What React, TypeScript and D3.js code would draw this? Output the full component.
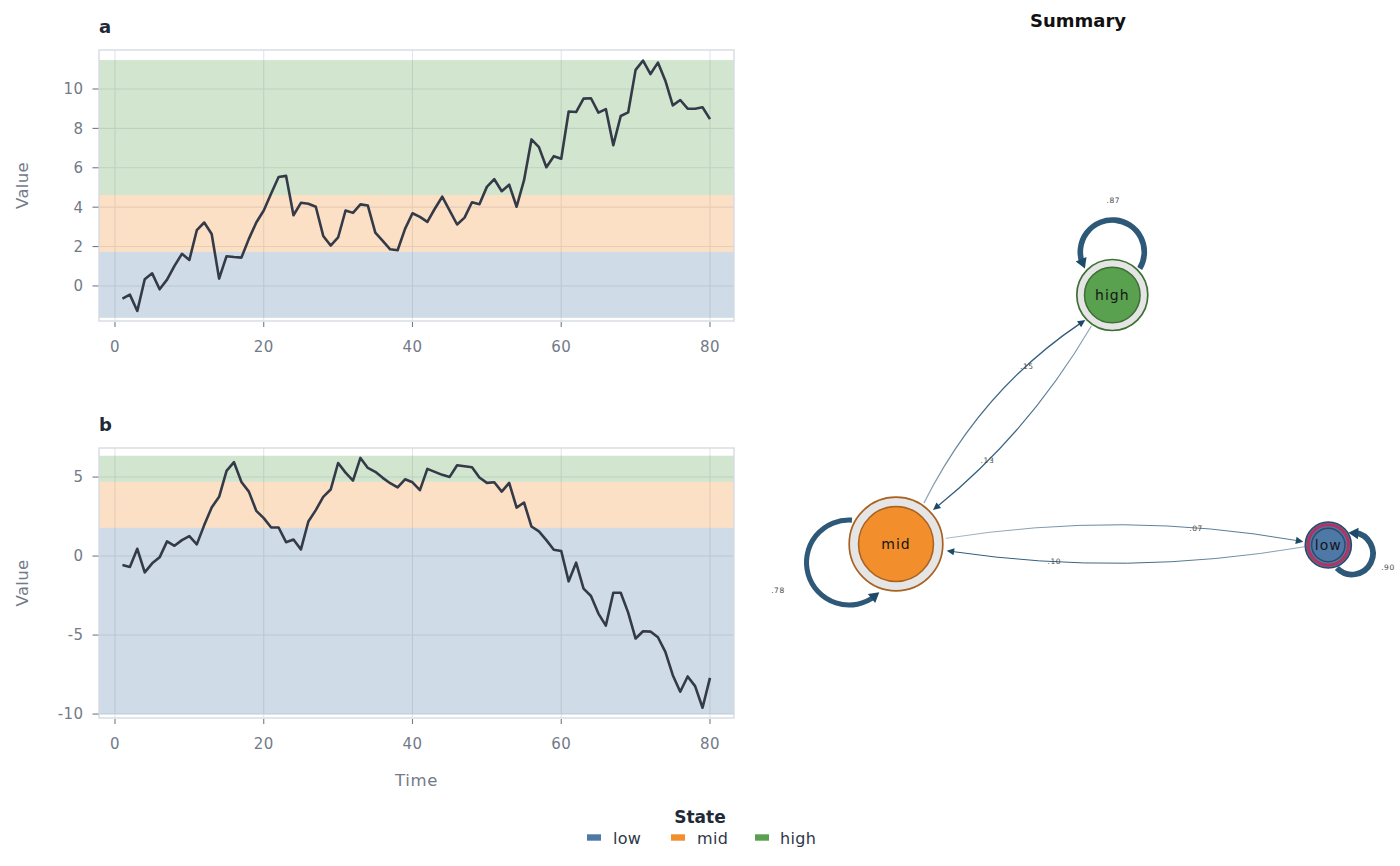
import React from "react";
import * as d3 from "d3";

// ---------- data ----------
const stateNames = ["low", "mid", "high"];
const stateColors = ["#4e79a7", "#f28e2b", "#59a14f"];

const seriesA = [-0.64, -0.44, -1.27, 0.34, 0.64, -0.17, 0.32, 1.02, 1.63, 1.32, 2.83, 3.22, 2.64, 0.37, 1.51, 1.47, 1.44, 2.39, 3.22, 3.83, 4.69, 5.53, 5.59, 3.59, 4.22, 4.17, 4.02, 2.54, 2.05, 2.46, 3.83, 3.71, 4.14, 4.08, 2.71, 2.29, 1.86, 1.81, 2.9, 3.69, 3.51, 3.25, 3.92, 4.53, 3.83, 3.12, 3.47, 4.25, 4.15, 5.03, 5.42, 4.81, 5.14, 4.02, 5.37, 7.44, 7.05, 6.03, 6.59, 6.46, 8.86, 8.83, 9.51, 9.53, 8.8, 8.98, 7.15, 8.63, 8.81, 10.97, 11.44, 10.76, 11.34, 10.42, 9.17, 9.44, 9.0, 9.0, 9.07, 8.47];
const seriesB = [-0.57, -0.69, 0.46, -1.03, -0.46, -0.08, 0.93, 0.65, 1.01, 1.26, 0.74, 1.96, 3.07, 3.75, 5.39, 5.94, 4.69, 4.08, 2.86, 2.4, 1.81, 1.81, 0.88, 1.05, 0.42, 2.19, 2.91, 3.75, 4.21, 5.89, 5.28, 4.78, 6.21, 5.58, 5.33, 4.95, 4.61, 4.34, 4.86, 4.67, 4.17, 5.52, 5.33, 5.14, 5.01, 5.75, 5.68, 5.62, 4.97, 4.63, 4.67, 4.08, 4.63, 3.07, 3.39, 1.87, 1.56, 1.01, 0.4, 0.32, -1.6, -0.42, -2.06, -2.53, -3.64, -4.4, -2.32, -2.32, -3.58, -5.22, -4.76, -4.78, -5.14, -6.06, -7.54, -8.59, -7.62, -8.23, -9.6, -7.71];

// band boundaries: low | mid | high
const bandsA = [-1.62, 1.73, 4.62, 11.47];
const bandsB = [-10.02, 1.79, 4.7, 6.35];

const xTicks = [0, 20, 40, 60, 80];
const yTicksA = [0, 2, 4, 6, 8, 10];
const yTicksB = [-10, -5, 0, 5];

const transFrom = ["low", "low", "mid", "mid", "mid", "high", "high"];
const transTo = ["low", "mid", "low", "mid", "high", "mid", "high"];
const transProb = [0.9, 0.1, 0.07, 0.78, 0.15, 0.13, 0.87];
const initialProb = [1, 0, 0];

// ---------- layout ----------
const FONT = "'DejaVu Sans', Verdana, sans-serif";
const PL = 99;
const PR = 734;
const TICK_COLOR = "#737a88";
const EDGE_COLOR = "#2d5877";
const ARROW_COLOR = "#1e4a6a";

const panels = [
  { key: "a", series: seriesA, bands: bandsA, yTicks: yTicksA, yDomain: [-1.78, 11.98], top: 50, bottom: 321 },
  { key: "b", series: seriesB, bands: bandsB, yTicks: yTicksB, yDomain: [-10.25, 6.84], top: 448, bottom: 718 },
];

const nodeLayout: Record<string, any> = {
  low: { cx: 1328.3, cy: 545, rOut: 23, rIn: 16.7, ring: "#4e79a7", stroke: "#2c4a6e" },
  mid: { cx: 896, cy: 544, rOut: 46.8, rIn: 37.5, ring: "#e5e5e5", stroke: "#a9611f" },
  high: { cx: 1112.3, cy: 295, rOut: 35.5, rIn: 27.8, ring: "#e5e5e5", stroke: "#3d7034" },
};

const edgeGeom: Record<string, any> = {
  "mid-high": { a0: -55.7, d0: 49.6, a1: 137.2, d1: 36.8, bend: 32 },
  "high-mid": { a0: 124, d0: 37.4, a1: -42.6, d1: 50.2, bend: 22 },
  "mid-low": { a0: -6.5, d0: 50, a1: -172.5, d1: 25.2, bend: 30 },
  "low-mid": { a0: 175.8, d0: 23.4, a1: 7.5, d1: 51.1, bend: 28.6 },
};

const loopGeom: Record<string, any> = {
  high: { dx: 0, dy: -43, r: 32, a0: 31, a1: -211, lx: 1, ly: -52 },
  mid: { dx: -47, dy: 18.5, r: 42.5, a0: -86, a1: -315.5, lx: -71, ly: 27.5 },
  low: { dx: 23.7, dy: 8.5, r: 21, a0: 136, a1: -100, lx: 36, ly: 13.5 },
};

const rad = (d: number) => (d * Math.PI) / 180;
const fmtProb = (p: number) => d3.format(".2f")(p).replace(/^0/, "");
const widthScale = d3.scaleLinear().domain([0, 1]).range([0.4, 6.4]);

function Panel({ p, showTitle }: any) {
  const x = d3.scaleLinear().domain([-2.15, 83.23]).range([PL, PR]);
  const y = d3.scaleLinear().domain(p.yDomain).range([p.bottom, p.top]);
  const line = d3
    .line<number>()
    .x((_, i) => x(i + 1))
    .y((d) => y(d));
  const clipId = `clip-${p.key}`;
  return (
    <g>
      <defs>
        <clipPath id={clipId}>
          <rect x={PL} y={p.top} width={PR - PL} height={p.bottom - p.top} />
        </clipPath>
      </defs>
      <rect x={PL} y={p.top} width={PR - PL} height={p.bottom - p.top} fill="#ffffff" />
      {xTicks.map((t) => (
        <line key={"gx" + t} x1={x(t)} x2={x(t)} y1={p.top} y2={p.bottom} stroke="#e2e5ea" strokeWidth={1.1} />
      ))}
      {p.yTicks.map((t: number) => (
        <line key={"gy" + t} x1={PL} x2={PR} y1={y(t)} y2={y(t)} stroke="#e2e5ea" strokeWidth={1.1} />
      ))}
      {stateNames.map((s, i) => (
        <rect
          key={s}
          x={PL}
          width={PR - PL}
          y={y(p.bands[i + 1])}
          height={y(p.bands[i]) - y(p.bands[i + 1])}
          fill={stateColors[i]}
          fillOpacity={0.27}
        />
      ))}
      <path d={line(p.series) || ""} fill="none" stroke="#343a48" strokeWidth={2.6} strokeLinejoin="round" clipPath={`url(#${clipId})`} />
      <rect x={PL} y={p.top} width={PR - PL} height={p.bottom - p.top} fill="none" stroke="#d6dbe2" strokeWidth={1.4} />
      {xTicks.map((t) => (
        <g key={"xt" + t}>
          <line x1={x(t)} x2={x(t)} y1={p.bottom + 1} y2={p.bottom + 6} stroke={TICK_COLOR} strokeWidth={1.1} />
          <text x={x(t)} y={p.bottom + 31} textAnchor="middle" fontSize={15} letterSpacing={0.4} fill={TICK_COLOR} fontFamily={FONT}>
            {t}
          </text>
        </g>
      ))}
      {p.yTicks.map((t: number) => (
        <g key={"yt" + t}>
          <line x1={PL - 6.5} x2={PL - 0.5} y1={y(t)} y2={y(t)} stroke={TICK_COLOR} strokeWidth={1.1} />
          <text x={83.5} y={y(t)} dy="0.36em" textAnchor="end" fontSize={15} letterSpacing={0.4} fill={TICK_COLOR} fontFamily={FONT}>
            {t}
          </text>
        </g>
      ))}
      <text x={99} y={p.top - 17} fontSize={18} fontWeight="bold" fill="#1f2937" fontFamily={FONT}>
        {p.key}
      </text>
      <text
        transform={`translate(28.3,${(p.top + p.bottom) / 2}) rotate(-90)`}
        textAnchor="middle"
        fontSize={16.5}
        letterSpacing={0.3}
        fill={TICK_COLOR}
        fontFamily={FONT}
      >
        Value
      </text>
      {showTitle && (
        <text x={(PL + PR) / 2} y={786} textAnchor="middle" fontSize={16.5} letterSpacing={0.6} fill={TICK_COLOR} fontFamily={FONT}>
          Time
        </text>
      )}
    </g>
  );
}

function arrowPoly(tip: number[], base: number[], hw: number) {
  const ux = tip[0] - base[0];
  const uy = tip[1] - base[1];
  const L = Math.hypot(ux, uy) || 1;
  const vx = -uy / L;
  const vy = ux / L;
  return [tip, [base[0] + vx * hw, base[1] + vy * hw], [base[0] - vx * hw, base[1] - vy * hw]]
    .map((q) => q.join(","))
    .join(" ");
}

function Network() {
  const loops: any[] = [];
  const curves: any[] = [];
  transProb.forEach((p, i) => {
    const f = transFrom[i];
    const t = transTo[i];
    const w = widthScale(p);
    if (f === t) {
      const n = nodeLayout[f];
      const g = loopGeom[f];
      const cx = n.cx + g.dx;
      const cy = n.cy + g.dy;
      const len = 10;
      const hw = 5.8;
      const delta = (len / g.r) * (180 / Math.PI);
      const aBase = g.a1 + delta;
      const aLineEnd = g.a1 + delta * 0.6;
      const path = d3.path();
      path.arc(cx, cy, g.r, rad(g.a0), rad(aLineEnd), true);
      const tip = [cx + g.r * Math.cos(rad(g.a1)), cy + g.r * Math.sin(rad(g.a1))];
      const base = [cx + g.r * Math.cos(rad(aBase)), cy + g.r * Math.sin(rad(aBase))];
      loops.push({ key: f + t, d: path.toString(), w, arrow: arrowPoly(tip, base, hw), lx: cx + g.lx, ly: cy + g.ly, label: fmtProb(p) });
    } else {
      const ns = nodeLayout[f];
      const nt = nodeLayout[t];
      const g = edgeGeom[`${f}-${t}`];
      const S = [ns.cx + g.d0 * Math.cos(rad(g.a0)), ns.cy + g.d0 * Math.sin(rad(g.a0))];
      const E = [nt.cx + g.d1 * Math.cos(rad(g.a1)), nt.cy + g.d1 * Math.sin(rad(g.a1))];
      const L = Math.hypot(E[0] - S[0], E[1] - S[1]);
      const dx = (E[0] - S[0]) / L;
      const dy = (E[1] - S[1]) / L;
      const C = [(S[0] + E[0]) / 2 + dy * g.bend, (S[1] + E[1]) / 2 - dx * g.bend];
      const ux = E[0] - C[0];
      const uy = E[1] - C[1];
      const uL = Math.hypot(ux, uy);
      const len = 7.5;
      const base = [E[0] - (ux / uL) * len, E[1] - (uy / uL) * len];
      const lineEnd = [E[0] - (ux / uL) * len * 0.8, E[1] - (uy / uL) * len * 0.8];
      const path = d3.path();
      path.moveTo(S[0], S[1]);
      path.quadraticCurveTo(C[0], C[1], lineEnd[0], lineEnd[1]);
      const tt = 0.7;
      const lx = (1 - tt) * (1 - tt) * S[0] + 2 * tt * (1 - tt) * C[0] + tt * tt * E[0];
      const ly = (1 - tt) * (1 - tt) * S[1] + 2 * tt * (1 - tt) * C[1] + tt * tt * E[1];
      curves.push({ key: f + t, d: path.toString(), w: Math.max(w, 0.8), S, E, arrow: arrowPoly(E, base, 3.6), lx, ly, label: fmtProb(p) });
    }
  });

  return (
    <g>
      <defs>
        {curves.map((c) => (
          <linearGradient key={c.key} id={"grad-" + c.key} gradientUnits="userSpaceOnUse" x1={c.S[0]} y1={c.S[1]} x2={c.E[0]} y2={c.E[1]}>
            <stop offset="0" stopColor={EDGE_COLOR} stopOpacity={0.5} />
            <stop offset="0.45" stopColor={EDGE_COLOR} stopOpacity={0.9} />
            <stop offset="1" stopColor={EDGE_COLOR} stopOpacity={1} />
          </linearGradient>
        ))}
      </defs>
      <text x={1078} y={27} textAnchor="middle" fontSize={18} fontWeight="bold" fill="#111111" fontFamily={FONT}>
        Summary
      </text>
      {loops.map((l) => (
        <g key={l.key}>
          <path d={l.d} fill="none" stroke={EDGE_COLOR} strokeWidth={l.w} />
          <polygon points={l.arrow} fill={ARROW_COLOR} />
        </g>
      ))}
      {curves.map((c) => (
        <g key={c.key}>
          <path d={c.d} fill="none" stroke={`url(#grad-${c.key})`} strokeWidth={c.w} />
          <polygon points={c.arrow} fill={ARROW_COLOR} />
        </g>
      ))}
      {stateNames.map((s, i) => {
        const n = nodeLayout[s];
        const pie = initialProb[i];
        return (
          <g key={s}>
            <circle cx={n.cx} cy={n.cy} r={n.rOut} fill={n.ring} stroke={n.stroke} strokeWidth={1.7} />
            {pie > 0 && (
              <circle cx={n.cx} cy={n.cy} r={(n.rOut + n.rIn) / 2 + 0.3} fill="none" stroke="#b3325e" strokeWidth={3} />
            )}
            <circle cx={n.cx} cy={n.cy} r={n.rIn} fill={stateColors[i]} stroke={n.stroke} strokeWidth={1.5} />
            <text x={n.cx} y={n.cy} dy="0.36em" textAnchor="middle" fontSize={14} letterSpacing={1} fill="#161616" fontFamily={FONT}>
              {s}
            </text>
          </g>
        );
      })}
      {[...loops, ...curves].map((l) => (
        <text key={"lab" + l.key} x={l.lx} y={l.ly} dy="0.35em" textAnchor="middle" fontSize={7.5} letterSpacing={0.6} fill="#4a4a4a" fontFamily={FONT}>
          {l.label}
        </text>
      ))}
    </g>
  );
}

function Legend() {
  const items = [
    { sx: 587, tx: 613 },
    { sx: 671, tx: 697 },
    { sx: 755, tx: 780 },
  ];
  return (
    <g>
      <text x={700} y={823} textAnchor="middle" fontSize={17} fontWeight="bold" fill="#1f2937" fontFamily={FONT}>
        State
      </text>
      {stateNames.map((s, i) => (
        <g key={s}>
          <rect x={items[i].sx} y={834.3} width={14} height={6.4} fill={stateColors[i]} />
          <text x={items[i].tx} y={844} fontSize={16} letterSpacing={0.3} fill="#2d3748" fontFamily={FONT}>
            {s}
          </text>
        </g>
      ))}
    </g>
  );
}

export default function App() {
  return (
    <svg
      width={1400}
      height={866}
      viewBox="0 0 1400 866"
      style={{ position: "absolute", left: 0, top: 0, background: "#ffffff" }}
    >
      <rect x={0} y={0} width={1400} height={866} fill="#ffffff" />
      {panels.map((p, i) => (
        <Panel key={p.key} p={p} showTitle={i === panels.length - 1} />
      ))}
      <Network />
      <Legend />
    </svg>
  );
}
